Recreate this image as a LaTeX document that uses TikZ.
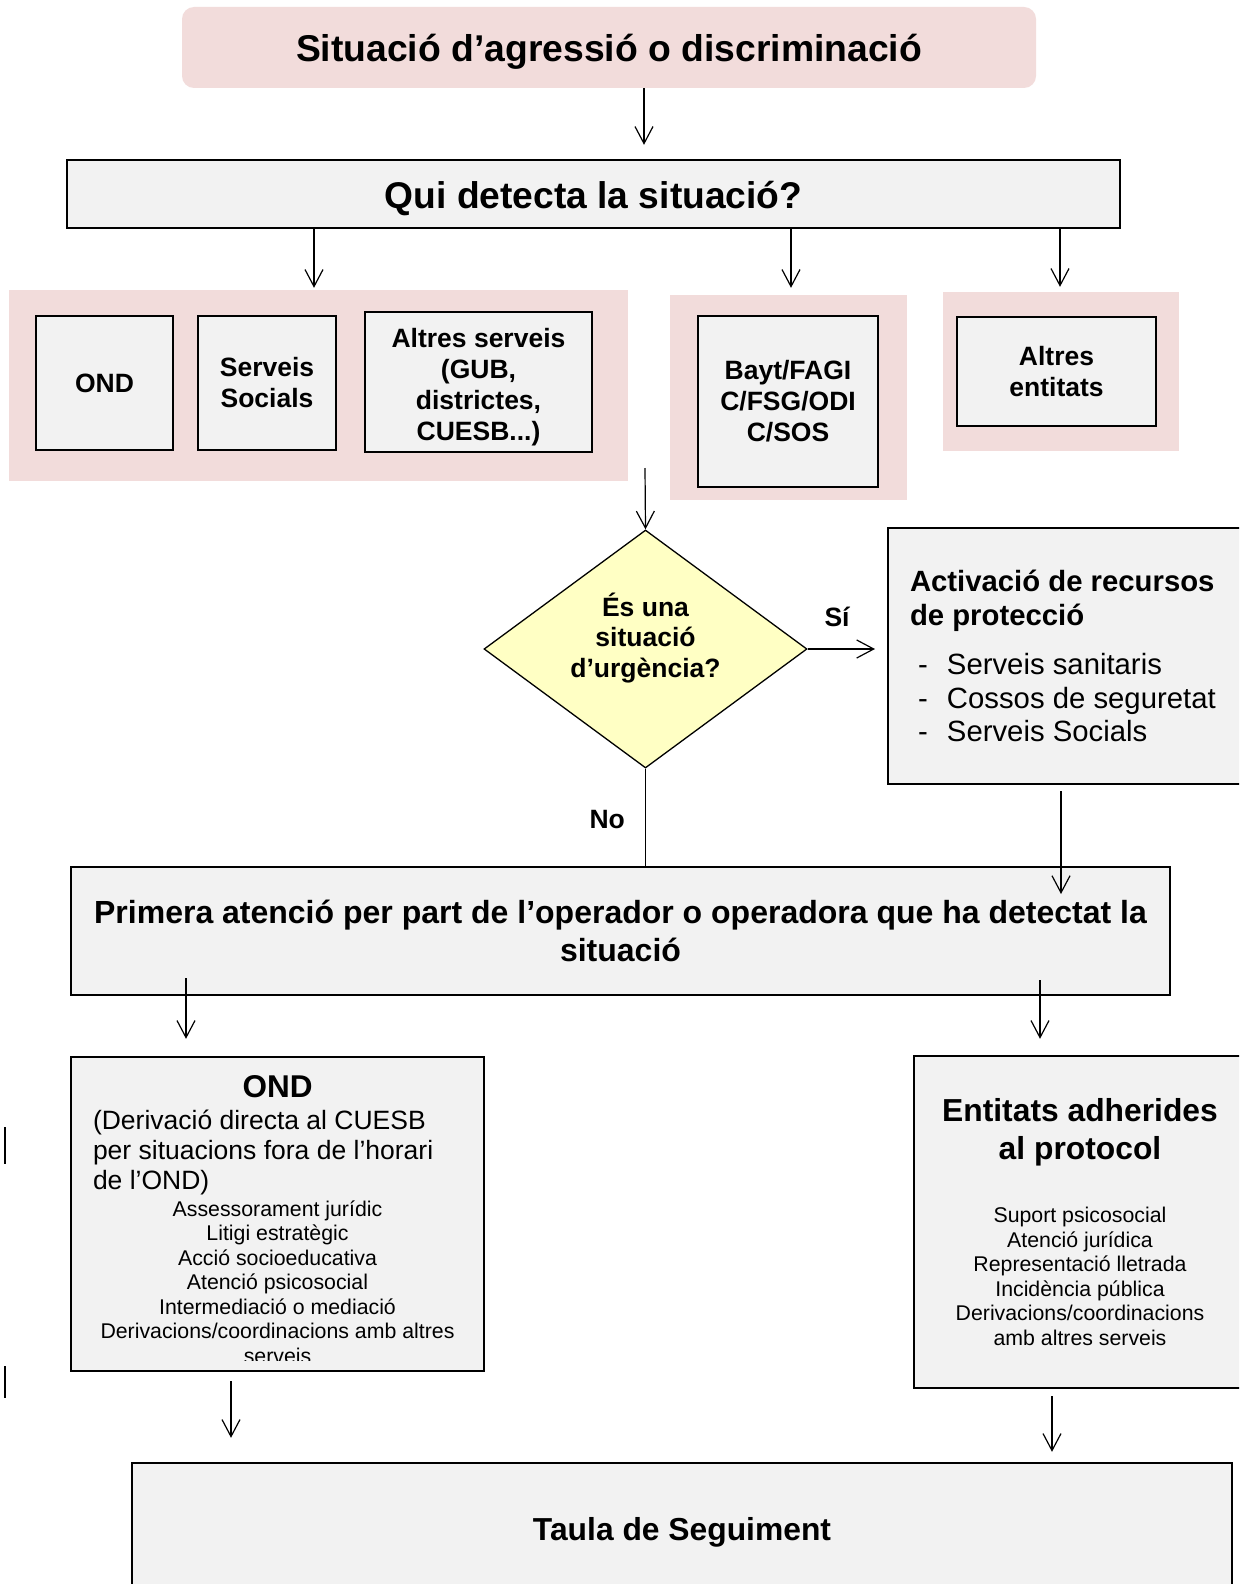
\documentclass[tikz,border=0pt]{standalone}
\usepackage{fontspec}
\setmainfont{Liberation Sans}
\usetikzlibrary{shapes.geometric,arrows.meta}
\definecolor{rosa}{RGB}{242,220,219}
\definecolor{gris}{RGB}{242,242,242}
\definecolor{groc}{RGB}{255,255,196}
\begin{document}
\begin{tikzpicture}[x=1pt,y=-1pt,>={Straight Barb[length=17pt,width=18pt]},
  grup/.style={fill=rosa,inner sep=0pt},
  caixa/.style={draw,line width=2.4pt,fill=gris,inner sep=0pt,align=center},
  fletxa/.style={->,line width=1.2pt},
  linia/.style={line width=1.2pt},
  etiq/.style={inner sep=0pt,font=\bfseries\fontsize{26.5}{30}\selectfont},
  normal/.style={},
  baixa/.style={text height=123pt}]
\useasboundingbox (0,0) rectangle (1239,1584);
\fill[white] (0,0) rectangle (1239,1584);
\clip (0,0) rectangle (1239,1584);

\node[grup,rounded corners=12pt,minimum width=854pt,minimum height=81pt,text height=36pt,text depth=7.2pt,
  font=\bfseries\fontsize{37.3}{42}\selectfont] (sit) at (609,47.5) {Situació d’agressió o discriminació};
\node[caixa,minimum width=1053pt,minimum height=68pt,text height=36pt,text depth=7.4pt,
  font=\bfseries\fontsize{37.2}{42}\selectfont] (qui) at (593.5,194) {Qui detecta la situació?};

\node[grup,minimum width=619pt,minimum height=191pt] (g1) at (318.5,385.5) {};
\node[grup,minimum width=237pt,minimum height=205pt] (g2) at (788.5,397.5) {};
\node[grup,minimum width=236pt,minimum height=159pt] (g3) at (1061,371.5) {};

\foreach \nom/\cx/\cy/\ampl/\alca/\extra/\txt in {ond1/104.5/383/137/134/normal/OND,
    ss/267/383/138/134/normal/{Serveis\\Socials},
    alt/478.5/382/227/140/baixa/{Altres serveis\\(GUB,\\districtes,\\CUESB...)},
    bayt/788/401.5/180/171/normal/{Bayt/FAGI\\C/FSG/ODI\\C/SOS},
    altent/1056.5/371.5/199/109/normal/{Altres\\entitats}}
{
  \node[caixa,line width=2.6pt,minimum width=\ampl pt,minimum height=\alca pt,\extra,
    font=\bfseries\fontsize{26.5}{31}\selectfont] (\nom) at (\cx,\cy) {\txt};
}

\node[shape=diamond,draw,line width=1.3pt,fill=groc,inner sep=0pt,aspect=1.36,minimum width=323pt,
  minimum height=238pt,align=center,text depth=28pt,
  font=\bfseries\fontsize{26.5}{30.3}\selectfont] (urg) at (645.5,649) {És una\\situació\\d’urgència?};

\node[caixa,line width=2pt,minimum width=372pt,minimum height=256pt,text width=328pt,align=left,
  font=\fontsize{29.3}{33.5}\selectfont] (act) at (1074,656)
  {\spaceskip=0pt\xspaceskip=0pt{\bfseries Activació de recursos\\de protecció}\\[16pt]
   \hspace*{8pt}\makebox[29pt][l]{-}Serveis sanitaris\\
   \hspace*{8pt}\makebox[29pt][l]{-}Cossos de seguretat\\
   \hspace*{8pt}\makebox[29pt][l]{-}Serveis Socials};

\node[caixa,minimum width=1099pt,minimum height=128pt,
  font=\bfseries\fontsize{32}{37.4}\selectfont] (prim) at (620.5,931)
  {Primera atenció per part de l’operador o operadora que ha detectat la\\situació};

\node[caixa,minimum width=413pt,minimum height=314pt] (ond) at (277.5,1214) {};
\begin{scope}
\clip ([xshift=2pt,yshift=-2pt]ond.north west) rectangle ([xshift=-2pt,yshift=12pt]ond.south east);
\node[anchor=north,inner sep=0pt,text width=369pt] (ondtxt) at (277.5,1075)
  {\spaceskip=0pt\xspaceskip=0pt
   {\centering\bfseries\fontsize{31.5}{36}\selectfont OND\par}\vspace{1.7pt}
   {\raggedright\fontsize{26.5}{30.3}\selectfont (Derivació directa al CUESB\\per situacions fora de l’horari\\de l’OND)\par}\vspace{2.1pt}
   {\centering\fontsize{21.3}{24.5}\selectfont Assessorament jurídic\\Litigi estratègic\\Acció socioeducativa\\Atenció psicosocial\\Intermediació o mediació\\Derivacions/coordinacions amb altres\\serveis\par}};
\end{scope}

\node[caixa,minimum width=332pt,minimum height=332pt,text width=300pt] (ent) at (1080,1222)
  {{\bfseries\fontsize{31.8}{38.4}\selectfont\spaceskip=\fontdimen2\font\relax Entitats adherides\\al protocol\par}\vspace{38.5pt}
   {\fontsize{21.3}{24.5}\selectfont\spaceskip=\fontdimen2\font\relax Suport psicosocial\\Atenció jurídica\\Representació lletrada\\Incidència pública\\Derivacions/coordinacions\\amb altres serveis\par}};

\node[caixa,minimum width=1100pt,minimum height=133pt,text height=30pt,text depth=8.2pt,
  font=\bfseries\fontsize{31.8}{38}\selectfont] (taula) at (682,1529.5) {Taula de Seguiment};

\coordinate (c1) at (644,0);
\draw[fletxa,shorten >=14pt] (sit.south -| c1) -- (qui.north -| c1);
\foreach \g/\x/\s in {g1/314/2,g2/791/7,g3/1060/5}
{
  \coordinate (c\g) at (\x,0);
  \draw[fletxa,shorten >=\s pt] (qui.south -| c\g) -- (\g.north -| c\g);
}
\coordinate (c4) at (645,468);
\draw[fletxa] (c4) -- (urg.north);
\draw[fletxa,shorten >=12pt] (urg.east) -- (urg.east -| act.west) node[etiq,pos=0.37,above=22pt] {Sí};
\draw[linia] (urg.south) -- (prim.north -| urg.south) node[etiq,midway,left=20pt,yshift=-2pt] {No};
\coordinate (c5) at (1061,894);
\draw[fletxa,shorten <=6pt] (act.south -| c5) -- (c5);
\coordinate (c6) at (186,978);
\coordinate (c7) at (1040,980);
\draw[fletxa,shorten >=17pt] (c6) -- (ond.north -| c6);
\draw[fletxa,shorten >=16pt] (c7) -- (ent.north -| c7);
\coordinate (c8) at (231,0);
\coordinate (c9) at (1052,0);
\draw[fletxa,shorten <=9pt,shorten >=24pt] (ond.south -| c8) -- (taula.north -| c8);
\draw[fletxa,shorten <=7pt,shorten >=10pt] (ent.south -| c9) -- (taula.north -| c9);

\draw[line width=2pt] (5,1127) -- (5,1164) (5,1366) -- (5,1398);
\end{tikzpicture}
\end{document}
